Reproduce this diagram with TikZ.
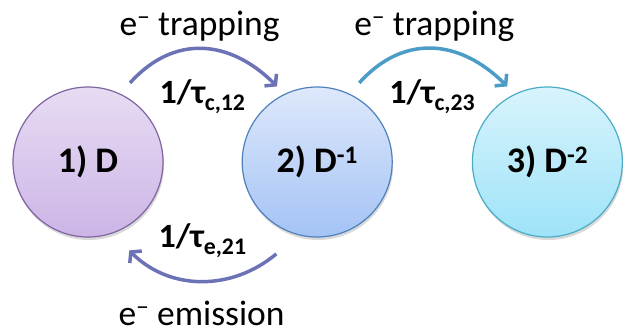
\documentclass[tikz,border=0pt]{standalone}
\usepackage{fontspec}
\setmainfont{Carlito}
\usetikzlibrary{arrows.meta, positioning, calc, shadows}

\definecolor{purpleline}{HTML}{8064A2}
\definecolor{blueline}{HTML}{4F81BD}
\definecolor{cyanline}{HTML}{4BACC6}
\definecolor{trapone}{HTML}{6C72B6}
\definecolor{traptwo}{HTML}{4C9CC8}

\begin{document}
\begin{tikzpicture}[
    x=1pt, y=1pt,
    node distance = 78pt,
    % --- State styles ---
    state/.style = {circle, draw=#1, line width=1.2pt, minimum size=150pt,
        inner sep=0pt, align=center, font=\fontsize{36}{42}\selectfont\bfseries,
        drop shadow={opacity=0.3, shadow xshift=1pt, shadow yshift=-3pt}},
    % --- Label styles ---
    process/.style = {anchor=base, inner sep=0pt, font=\fontsize{35.5}{42}\selectfont},
    rate/.style = {anchor=base, inner sep=0pt, font=\fontsize{34}{40}\selectfont\bfseries},
    % --- Arrow style ---
    flow/.style = {line width=3.5pt, draw=#1,
        -{Straight Barb[length=7pt, width=17pt]}}
]

\useasboundingbox (0,0) rectangle (623,333);

% ==================== STATES ====================
\node[state=purpleline, top color={rgb,255:red,231;green,220;blue,243},
    bottom color={rgb,255:red,204;green,181;blue,230}] (d1) at (88,171) {1) D};
\node[state=blueline, top color={rgb,255:red,222;green,232;blue,251},
    bottom color={rgb,255:red,164;green,195;blue,245}, right=of d1] (d2) {2) D\textsuperscript{-1}};
\node[state=cyanline, top color={rgb,255:red,216;green,244;blue,252},
    bottom color={rgb,255:red,158;green,227;blue,248}, right=79pt of d2] (d3) {3) D\textsuperscript{-2}};

% ==================== LABELS ====================
\node[process] (trap12) at ($(d1)!0.5!(d2)+(-3,127)$) {e\textsuperscript{−} trapping};
\node[rate] (rate12) at ($(d1)!0.5!(d2)+(0,59)$) {1/τ\textsubscript{c,12}};
\node[process] (trap23) at ($(d2)!0.5!(d3)+(2,127)$) {e\textsuperscript{−} trapping};
\node[rate] (rate23) at ($(d2)!0.5!(d3)+(0,59)$) {1/τ\textsubscript{c,23}};
\node[rate] (rate21) at ($(d1)!0.5!(d2)+(0,-85)$) {1/τ\textsubscript{e,21}};
\node[process] (emit21) at ($(d1)!0.5!(d2)+(-1,-163)$) {e\textsuperscript{−} emission};

% ==================== ARROWS ====================
\draw[flow=trapone] ([shift={(62:14)}]d1.62) to[out=48, in=135, looseness=1.15] ([shift={(118:10)}]d2.118);
\draw[flow=traptwo] ([shift={(62:14)}]d2.62) to[out=48, in=135, looseness=1.15] ([shift={(118:10)}]d3.118);
\draw[flow=trapone] ([shift={(246:25)}]d2.246) to[out=220, in=315] ([shift={(295:22)}]d1.295);

\end{tikzpicture}
\end{document}
